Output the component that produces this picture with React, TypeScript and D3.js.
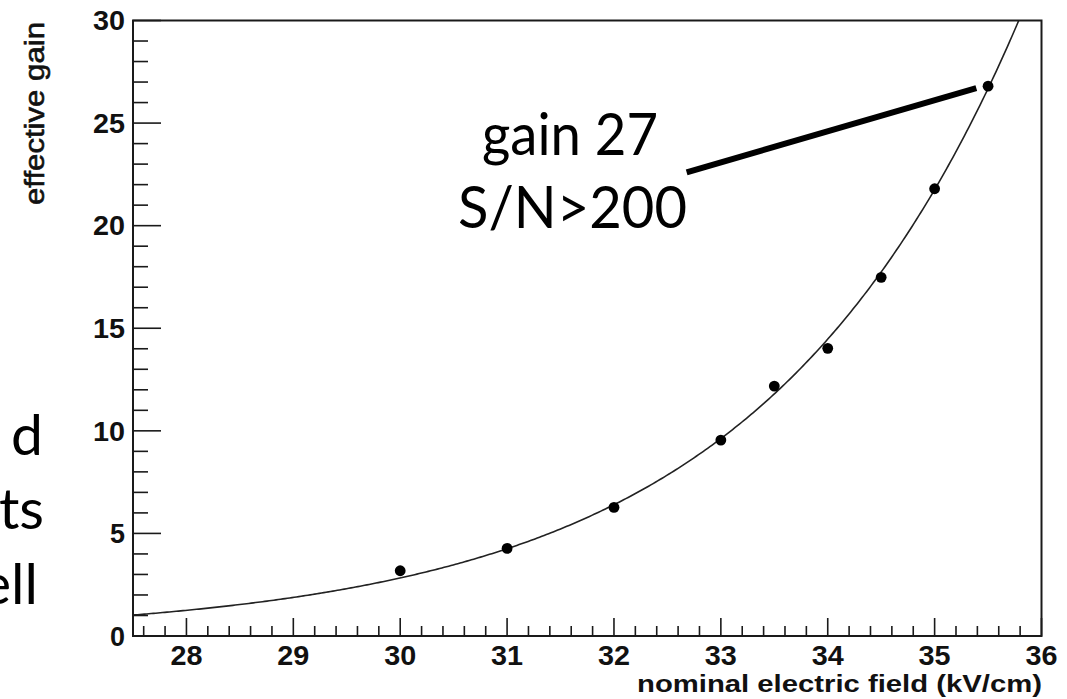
import React from "react";
import * as d3 from "d3";

// ---- data ----
const fieldKV = [30, 31, 32, 33, 33.5, 34, 34.5, 35, 35.5];
const effectiveGain = [3.18, 4.27, 6.27, 9.55, 12.18, 14.02, 17.48, 21.8, 26.8];

// exponential fit drawn through the points: gain = exp(fitConst + fitSlope * E)
const fitConst = -11.2;
const fitSlope = 0.408;

const xMajorTicks = [28, 29, 30, 31, 32, 33, 34, 35, 36];
const yMajorTicks = [0, 5, 10, 15, 20, 25, 30];
const xDomain = [27.5, 36];
const yDomain = [0, 30];

const xTitle = "nominal electric field (kV/cm)";
const yTitle = "effective gain";
const noteLines = ["gain 27", "S/N>200"];
const fragments = ["d", "ts", "ell"];

const W = 1067;
const H = 699;

export default function App() {
  const left = 133;
  const right = 1041.5;
  const top = 20.5;
  const bottom = 636;
  const x = d3.scaleLinear().domain(xDomain).range([left, right]);
  const y = d3.scaleLinear().domain(yDomain).range([bottom, top]);

  const xMinor = d3.range(27.6, 36, 0.2).filter(
    (v) => Math.abs(v - Math.round(v)) > 0.01
  );
  const yMinor = d3.range(1, 30, 1).filter((v) => v % 5 !== 0);

  const fitXs = d3.range(0, 401).map((i) => xDomain[0] + ((xDomain[1] - xDomain[0]) * i) / 400);
  const fitLine = d3
    .line<number>()
    .x((v) => x(v))
    .y((v) => y(Math.exp(fitConst + fitSlope * v)));

  const axisColor = "#1a1a1a";
  const tickFont = "'Liberation Sans', Arial, Helvetica, sans-serif";
  const slideFont = "Lato, 'Open Sans', sans-serif";

  // annotation pointer, anchored near the last data point
  const ptr = { x1: 32.68, y1: 22.6, x2: 35.39, y2: 26.7 };

  return (
    <div style={{ position: "absolute", left: 0, top: 0, width: W, height: H, background: "#fff" }}>
      <svg width={W} height={H} viewBox={`0 0 ${W} ${H}`} style={{ display: "block" }}>
        <defs>
          <clipPath id="plotClip">
            <rect x={left} y={top} width={right - left} height={bottom - top} />
          </clipPath>
        </defs>
        <rect x={0} y={0} width={W} height={H} fill="#fff" />

        {/* slide text fragments on the left (cut off by the slide edge, as in the source) */}
        <g fontFamily={slideFont} fontSize={57} fill="#000" textAnchor="end">
          <text x={43} y={455}>{fragments[0]}</text>
          <text x={44} y={529}>{fragments[1]}</text>
          <text x={38} y={604}>{fragments[2]}</text>
        </g>

        {/* fit curve */}
        <path
          d={fitLine(fitXs) || ""}
          fill="none"
          stroke="#222"
          strokeWidth={1.6}
          clipPath="url(#plotClip)"
        />

        {/* data points */}
        <g fill="#000">
          {fieldKV.map((v, i) => (
            <circle key={i} cx={x(v)} cy={y(effectiveGain[i])} r={5.4} />
          ))}
        </g>

        {/* frame */}
        <rect
          x={left}
          y={top}
          width={right - left}
          height={bottom - top}
          fill="none"
          stroke={axisColor}
          strokeWidth={2}
        />

        {/* ticks */}
        <g stroke={axisColor} strokeWidth={1.6}>
          {xMajorTicks.map((t) => (
            <line key={"xm" + t} x1={x(t)} x2={x(t)} y1={bottom} y2={bottom - 18} />
          ))}
          {xMinor.map((t, i) => (
            <line key={"xn" + i} x1={x(t)} x2={x(t)} y1={bottom} y2={bottom - 10} />
          ))}
          {yMajorTicks.map((t) => (
            <line key={"ym" + t} x1={left} x2={left + 28} y1={y(t)} y2={y(t)} />
          ))}
          {yMinor.map((t) => (
            <line key={"yn" + t} x1={left} x2={left + 15} y1={y(t)} y2={y(t)} />
          ))}
        </g>

        {/* tick labels */}
        <g fontFamily={tickFont} fontWeight="bold" fontSize={27} fill="#111">
          {xMajorTicks.map((t) => (
            <text
              key={"xl" + t}
              x={x(t)}
              y={665}
              textAnchor="middle"
              textLength={32}
              lengthAdjust="spacingAndGlyphs"
            >
              {String(t)}
            </text>
          ))}
          {yMajorTicks.map((t) => (
            <text
              key={"yl" + t}
              x={125}
              y={y(t) + 9.7}
              textAnchor="end"
              {...(String(t).length === 2
                ? { textLength: 32, lengthAdjust: "spacingAndGlyphs" }
                : { textLength: 15, lengthAdjust: "spacingAndGlyphs" })}
            >
              {String(t)}
            </text>
          ))}
        </g>

        {/* axis titles */}
        <text
          x={1042}
          y={692}
          textAnchor="end"
          fontFamily={tickFont}
          fontWeight="bold"
          fontSize={24}
          fill="#111"
          textLength={405}
          lengthAdjust="spacingAndGlyphs"
        >
          {xTitle}
        </text>
        <text
          transform="translate(44,22) rotate(-90)"
          textAnchor="end"
          fontFamily={tickFont}
          fontSize={27}
          fill="#111"
          stroke="#111"
          strokeWidth={0.6}
          textLength={183}
          lengthAdjust="spacingAndGlyphs"
        >
          {yTitle}
        </text>

        {/* annotation */}
        <line
          x1={x(ptr.x1)}
          y1={y(ptr.y1)}
          x2={x(ptr.x2)}
          y2={y(ptr.y2)}
          stroke="#000"
          strokeWidth={6}
        />
        <g fontFamily={slideFont} fontSize={58} fill="#000" textAnchor="middle">
          <text x={570} y={155} textLength={176} lengthAdjust="spacingAndGlyphs">
            {noteLines[0]}
          </text>
          <text x={572.5} y={228} textLength={229} lengthAdjust="spacingAndGlyphs">
            {noteLines[1]}
          </text>
        </g>
      </svg>
    </div>
  );
}
